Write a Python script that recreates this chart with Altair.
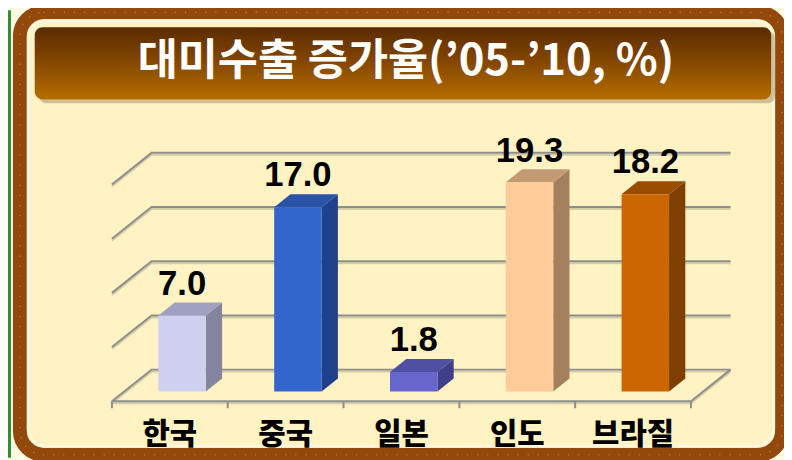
import altair as alt
import pandas as pd

# ---- data ----
categories = ["한국", "중국", "일본", "인도", "브라질"]
values = [7.0, 17.0, 1.8, 19.3, 18.2]
value_labels = ["7.0", "17.0", "1.8", "19.3", "18.2"]
front_colors = ["#CFCFEF", "#3366CC", "#6666CC", "#FFCC99", "#CC6600"]
side_colors = ["#84849F", "#1F418C", "#40408A", "#A5805F", "#7F3F00"]
top_colors = ["#A0A0C0", "#2A52A6", "#5050A2", "#C39A73", "#994C00"]
grid_values = [0, 5, 10, 15, 20]
title_text = "대미수출 증가율(’05-’10, %)"

# ---- 3D geometry (in data units) ----
DX = 0.342   # depth shift along category axis (full floor depth)
DY = 2.92    # depth shift along value axis (full floor depth)
T0, T1 = 0.31, 0.72   # bar front / back depth fractions
HW = 0.205            # half bar width (category units)
X_LO, X_HI = -0.5, len(categories) - 0.5

xs = alt.Scale(domain=[X_LO, X_HI], range=[105, 690])
ys = alt.Scale(domain=[0, 20], range=[395, 176])

def X(f):
    return alt.X(f, type="quantitative", scale=xs, axis=None)

def Y(f):
    return alt.Y(f, type="quantitative", scale=ys, axis=None)

# bars
front_rows, side_rows, top_rows, label_rows = [], [], [], []
for i, (c, v) in enumerate(zip(categories, values)):
    dx0, dy0, dx1, dy1 = DX * T0, DY * T0, DX * T1, DY * T1
    xl0, xr0 = i + dx0 - HW, i + dx0 + HW
    xl1, xr1 = i + dx1 - HW, i + dx1 + HW
    front_rows.append(dict(cat=c, x=xl0, x2=xr0, y=dy0, y2=v + dy0, col=front_colors[i]))
    side_rows += [
        dict(cat=c, x=xr0, lo=dy0, hi=v + dy0, col=side_colors[i]),
        dict(cat=c, x=xr1, lo=dy1, hi=v + dy1, col=side_colors[i]),
    ]
    top_rows += [
        dict(cat=c, x=xl0, lo=v + dy0, hi=v + dy0, col=top_colors[i]),
        dict(cat=c, x=xl1, lo=v + dy0, hi=v + dy1, col=top_colors[i]),
        dict(cat=c, x=xr0, lo=v + dy0, hi=v + dy1, col=top_colors[i]),
        dict(cat=c, x=xr1, lo=v + dy1, hi=v + dy1, col=top_colors[i]),
    ]
    label_rows.append(dict(cat=c, x=i + dx0, y=v + dy0, lab=value_labels[i], cx=i))

front_df = pd.DataFrame(front_rows)
side_df = pd.DataFrame(side_rows)
top_df = pd.DataFrame(top_rows)
label_df = pd.DataFrame(label_rows)

# grid lines (left wall diagonal + back wall horizontal)
grid_rows = []
for g in grid_values:
    grid_rows += [
        dict(g=g, o=0, x=X_LO, y=g),
        dict(g=g, o=1, x=X_LO + DX, y=g + DY),
        dict(g=g, o=2, x=X_HI + DX, y=g + DY),
    ]
grid_df = pd.DataFrame(grid_rows)

floor_df = pd.DataFrame([
    dict(o=0, x=X_LO, y=0),
    dict(o=1, x=X_HI, y=0),
    dict(o=2, x=X_HI + DX, y=DY),
])
tick_df = pd.DataFrame({"x": [X_LO + k for k in range(len(categories) + 1)]})
cat_df = pd.DataFrame({"cat": categories, "cx": list(range(len(categories)))})

# ---- decorative frame ----
one = pd.DataFrame({"a": [0]})
green = alt.Chart(one).mark_rect(color="#2F8F2F").encode(
    x=alt.value(0), x2=alt.value(3), y=alt.value(0), y2=alt.value(452))
frame = alt.Chart(one).mark_rect(
    fill="#FFF2C3", stroke="#93480C", strokeWidth=14, cornerRadius=24
).encode(x=alt.value(12), x2=alt.value(782), y=alt.value(2), y2=alt.value(449))
frame_dots = alt.Chart(one).mark_rect(
    fill="transparent", stroke="#C97A38", strokeWidth=1.2, strokeDash=[1.2, 9], cornerRadius=24
).encode(x=alt.value(12), x2=alt.value(782), y=alt.value(2), y2=alt.value(449))
inner_edge = alt.Chart(one).mark_rect(
    fill="transparent", stroke="#FFF8DC", strokeWidth=3, cornerRadius=18
).encode(x=alt.value(20.5), x2=alt.value(773.5), y=alt.value(10.5), y2=alt.value(440.5))
banner_shadow = alt.Chart(one).mark_rect(
    color="#A89870", opacity=0.55, cornerRadius=8
).encode(x=alt.value(31), x2=alt.value(775), y=alt.value(21), y2=alt.value(94))
banner = alt.Chart(one).mark_rect(
    color=alt.Gradient(
        gradient="linear", x1=0, y1=0, x2=0, y2=1,
        stops=[alt.GradientStop(color="#5A2B00", offset=0),
               alt.GradientStop(color="#874800", offset=0.5),
               alt.GradientStop(color="#B56E00", offset=1)]),
    cornerRadius=8
).encode(x=alt.value(27), x2=alt.value(771), y=alt.value(17), y2=alt.value(90))
title = alt.Chart(pd.DataFrame({"t": [title_text]})).mark_text(
    font="Noto Sans CJK KR", fontSize=44, fontWeight="bold", color="white",
    align="center", baseline="middle"
).encode(x=alt.value(402), y=alt.value(52), text="t:N")

# ---- chart layers ----
grid_shadow = alt.Chart(grid_df).mark_line(color="#D6CCA6", strokeWidth=2, yOffset=2).encode(
    x=X("x"), y=Y("y"), detail="g:N", order="o:Q")
grid = alt.Chart(grid_df).mark_line(color="#8E8E8E", strokeWidth=2).encode(
    x=X("x"), y=Y("y"), detail="g:N", order="o:Q")
floor_shadow = alt.Chart(floor_df).mark_line(color="#D6CCA6", strokeWidth=2, yOffset=2).encode(
    x=X("x"), y=Y("y"), order="o:Q")
floor = alt.Chart(floor_df).mark_line(color="#8E8E8E", strokeWidth=2).encode(
    x=X("x"), y=Y("y"), order="o:Q")
ticks = alt.Chart(tick_df).mark_rule(color="#8E8E8E", strokeWidth=2).encode(
    x=X("x"), y=alt.value(395), y2=alt.value(402))

sides = alt.Chart(side_df).mark_area(interpolate="linear").encode(
    x=X("x"), y=Y("hi"), y2="lo:Q", detail="cat:N", color=alt.Color("col:N", scale=None))
tops = alt.Chart(top_df).mark_area(interpolate="linear").encode(
    x=X("x"), y=Y("hi"), y2="lo:Q", detail="cat:N", color=alt.Color("col:N", scale=None))
fronts = alt.Chart(front_df).mark_rect().encode(
    x=X("x"), x2="x2:Q", y=Y("y"), y2="y2:Q", color=alt.Color("col:N", scale=None))

vlabels = alt.Chart(label_df).mark_text(
    font="Liberation Sans", fontSize=35, fontWeight="bold", color="black",
    align="center", baseline="alphabetic", dy=-21
).encode(x=X("x"), y=Y("y"), text="lab:N")

clabels = alt.Chart(cat_df).mark_text(
    font="Noto Sans CJK KR", fontSize=30, fontWeight=900, color="black",
    align="center", baseline="middle"
).encode(x=X("cx"), y=alt.value(429), text="cat:N")

chart = alt.layer(
    green, frame, frame_dots, inner_edge, banner_shadow, banner, title,
    grid_shadow, grid, floor_shadow, floor, ticks,
    sides, tops, fronts, vlabels, clabels
).properties(
    width=784, height=452,
    autosize=alt.AutoSizeParams(type="none"), padding=0,
    background="#FFFBE2"
).configure_view(strokeWidth=0)

chart.save("out.html", embed_options={"renderer": "svg", "actions": False})
